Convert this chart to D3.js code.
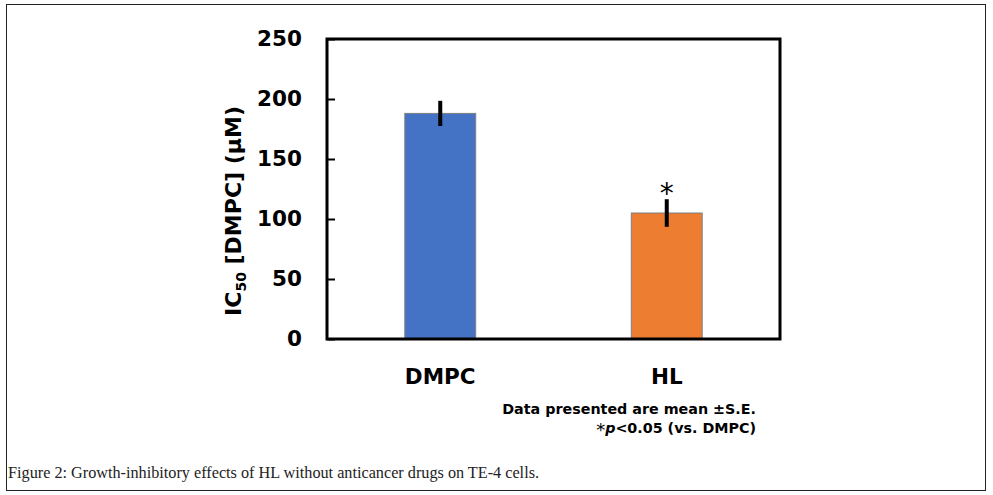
<!DOCTYPE html>
<html>
<head>
<meta charset="utf-8">
<script src="https://cdn.jsdelivr.net/npm/d3@7"></script>
<style>
  html, body { margin: 0; padding: 0; background: #fff; }
  svg { display: block; }
</style>
</head>
<body>
<svg id="chart" width="993" height="495"></svg>
<script>
// data
var groups = ["DMPC", "HL"];
var ic50 = [188, 105];
var stdErr = [10.5, 11.5];
var barColors = ["#4472C4", "#ED7D31"];
var yTicks = [0, 50, 100, 150, 200, 250];
var signif = [false, true];

var svg = d3.select("#chart");
var font = "'DejaVu Sans', Verdana, sans-serif";

// outer figure border
svg.append("rect")
  .attr("x", 6.5).attr("y", 4.5)
  .attr("width", 979).attr("height", 486)
  .attr("fill", "none").attr("stroke", "#222").attr("stroke-width", 1);

var plotL = 327, plotR = 780, plotT = 39, plotB = 339;

var x = d3.scaleBand().domain(groups).range([plotL, plotR])
  .paddingInner(0.687).paddingOuter(0.3435);
var y = d3.scaleLinear().domain([0, 250]).range([plotB, plotT]);

// bars
var data = groups.map(function (g, i) {
  return { name: g, value: ic50[i], se: stdErr[i], color: barColors[i], sig: signif[i] };
});

svg.selectAll("rect.bar").data(data).enter().append("rect")
  .attr("class", "bar")
  .attr("x", function (d) { return x(d.name); })
  .attr("y", function (d) { return y(d.value); })
  .attr("width", x.bandwidth())
  .attr("height", function (d) { return plotB - y(d.value); })
  .attr("fill", function (d) { return d.color; })
  .attr("stroke", "#7f7f7f").attr("stroke-width", 1);

// error bars
svg.selectAll("line.err").data(data).enter().append("line")
  .attr("class", "err")
  .attr("x1", function (d) { return x(d.name) + x.bandwidth() / 2; })
  .attr("x2", function (d) { return x(d.name) + x.bandwidth() / 2; })
  .attr("y1", function (d) { return y(d.value + d.se); })
  .attr("y2", function (d) { return y(d.value - d.se); })
  .attr("stroke", "#000").attr("stroke-width", 4);

// significance star
svg.selectAll("text.star").data(data.filter(function (d) { return d.sig; })).enter().append("text")
  .attr("class", "star")
  .attr("x", function (d) { return x(d.name) + x.bandwidth() / 2; })
  .attr("y", function (d) { return y(d.value + d.se) + 4; })
  .attr("text-anchor", "middle")
  .attr("font-family", font).attr("font-size", 28)
  .text("*");

// y axis ticks (inside) and labels
var yAxis = d3.axisLeft(y).tickValues(yTicks).tickSizeInner(-8).tickSizeOuter(0).tickPadding(25);
var gy = svg.append("g").attr("transform", "translate(" + plotL + ",0)").call(yAxis);
gy.select(".domain").remove();
gy.selectAll(".tick line").attr("stroke", "#000").attr("stroke-width", 2);
gy.selectAll(".tick text")
  .attr("font-family", font).attr("font-weight", "bold").attr("font-size", 21.5)
  .attr("fill", "#000");

// x labels
var xAxis = d3.axisBottom(x).tickSize(0).tickPadding(30);
var gx = svg.append("g").attr("transform", "translate(0," + plotB + ")").call(xAxis);
gx.select(".domain").remove();
gx.selectAll(".tick text")
  .attr("font-family", font).attr("font-weight", "bold").attr("font-size", 21.5)
  .attr("fill", "#000");

// plot frame
svg.append("rect")
  .attr("x", plotL).attr("y", plotT)
  .attr("width", plotR - plotL).attr("height", plotB - plotT)
  .attr("fill", "none").attr("stroke", "#000").attr("stroke-width", 3);

// y axis title
var yt = svg.append("text")
  .attr("transform", "translate(241,211) rotate(-90)")
  .attr("text-anchor", "middle")
  .attr("font-family", font).attr("font-weight", "bold").attr("font-size", 22)
  .attr("fill", "#000");
yt.append("tspan").text("IC");
yt.append("tspan").attr("font-size", 14).attr("dy", 5).text("50");
yt.append("tspan").attr("dy", -5).text(" [DMPC] (\u03BCM)");

// footnote
var note = svg.append("g")
  .attr("font-family", font).attr("font-weight", "bold").attr("font-size", 14.3)
  .attr("text-anchor", "end").attr("fill", "#000");
note.append("text").attr("x", 756).attr("y", 414).text("Data presented are mean \u00B1S.E.");
var n2 = note.append("text").attr("x", 756).attr("y", 433);
n2.append("tspan").attr("font-weight", "normal").attr("font-size", 18).attr("dy", 3).text("*");
n2.append("tspan").attr("font-style", "italic").attr("dy", -3).text("p");
n2.append("tspan").text("<0.05 (vs. DMPC)");

// caption
svg.append("text")
  .attr("x", 8).attr("y", 478)
  .attr("font-family", "'Liberation Serif', 'DejaVu Serif', serif")
  .attr("font-size", 16).attr("fill", "#222")
  .attr("textLength", 531).attr("lengthAdjust", "spacingAndGlyphs")
  .text("Figure 2: Growth-inhibitory effects of HL without anticancer drugs on TE-4 cells.");
</script>
</body>
</html>
